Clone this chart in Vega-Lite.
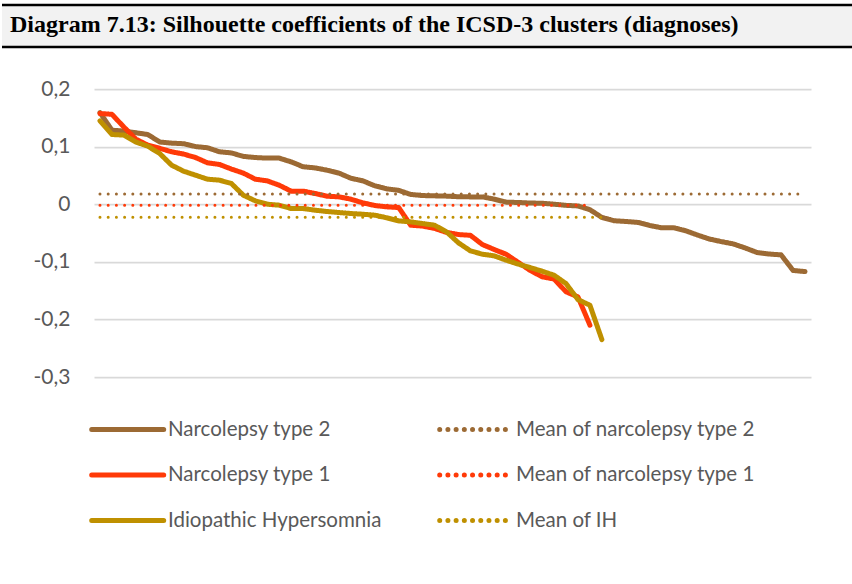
{
  "$schema": "https://vega.github.io/schema/vega-lite/v6.json",
  "padding": {"left": 0, "top": 3, "right": 0, "bottom": 0},
  "background": "white",
  "spacing": 29,
  "config": {"view": {"stroke": null}},
  "vconcat": [
    {
      "width": 760,
      "height": 42,
      "data": {"values": [{"t": "Diagram 7.13: Silhouette coefficients of the ICSD-3 clusters (diagnoses)"}]},
      "encoding": {
        "x": {"datum": -0.121053, "type": "quantitative", "scale": {"domain": [0, 1], "nice": false, "zero": false}, "axis": null}
      },
      "layer": [
        {"mark": {"type": "rect", "color": "#f2f2f2"}, "encoding": {"x2": {"datum": 1}, "y": {"datum": 0, "type": "quantitative", "scale": {"domain": [0, 1]}, "axis": null}, "y2": {"datum": 1}}},
        {"mark": {"type": "rule", "color": "black", "strokeWidth": 2.5}, "encoding": {"x2": {"datum": 1}, "y": {"datum": 0, "type": "quantitative", "scale": {"domain": [0, 1]}, "axis": null}}},
        {"mark": {"type": "rule", "color": "black", "strokeWidth": 2.5}, "encoding": {"x2": {"datum": 1}, "y": {"datum": 1, "type": "quantitative", "scale": {"domain": [0, 1]}, "axis": null}}},
        {
          "mark": {"type": "text", "align": "left", "baseline": "alphabetic", "font": "Liberation Serif", "fontWeight": "bold", "fontSize": 24, "color": "black", "dx": 8},
          "encoding": {
            "text": {"field": "t"},
            "y": {"datum": 0.35, "type": "quantitative", "scale": {"domain": [0, 1]}, "axis": null}
          }
        }
      ]
    },
    {
      "width": 717,
      "height": 288,
      "data": {"values": [
        {"s":"Narcolepsy type 2","i":0,"v":0.159},{"s":"Narcolepsy type 2","i":1,"v":0.1285},{"s":"Narcolepsy type 2","i":2,"v":0.127},{"s":"Narcolepsy type 2","i":3,"v":0.124},{"s":"Narcolepsy type 2","i":4,"v":0.121},{"s":"Narcolepsy type 2","i":5,"v":0.108},{"s":"Narcolepsy type 2","i":6,"v":0.106},{"s":"Narcolepsy type 2","i":7,"v":0.105},{"s":"Narcolepsy type 2","i":8,"v":0.1},{"s":"Narcolepsy type 2","i":9,"v":0.098},
        {"s":"Narcolepsy type 2","i":10,"v":0.091},{"s":"Narcolepsy type 2","i":11,"v":0.089},{"s":"Narcolepsy type 2","i":12,"v":0.083},{"s":"Narcolepsy type 2","i":13,"v":0.081},{"s":"Narcolepsy type 2","i":14,"v":0.08},{"s":"Narcolepsy type 2","i":15,"v":0.08},{"s":"Narcolepsy type 2","i":16,"v":0.0735},{"s":"Narcolepsy type 2","i":17,"v":0.065},{"s":"Narcolepsy type 2","i":18,"v":0.063},{"s":"Narcolepsy type 2","i":19,"v":0.059},
        {"s":"Narcolepsy type 2","i":20,"v":0.054},{"s":"Narcolepsy type 2","i":21,"v":0.045},{"s":"Narcolepsy type 2","i":22,"v":0.0405},{"s":"Narcolepsy type 2","i":23,"v":0.032},{"s":"Narcolepsy type 2","i":24,"v":0.0266},{"s":"Narcolepsy type 2","i":25,"v":0.024},{"s":"Narcolepsy type 2","i":26,"v":0.017},{"s":"Narcolepsy type 2","i":27,"v":0.015},{"s":"Narcolepsy type 2","i":28,"v":0.0145},{"s":"Narcolepsy type 2","i":29,"v":0.014},
        {"s":"Narcolepsy type 2","i":30,"v":0.013},{"s":"Narcolepsy type 2","i":31,"v":0.0127},{"s":"Narcolepsy type 2","i":32,"v":0.0127},{"s":"Narcolepsy type 2","i":33,"v":0.0087},{"s":"Narcolepsy type 2","i":34,"v":0.0035},{"s":"Narcolepsy type 2","i":35,"v":0.003},{"s":"Narcolepsy type 2","i":36,"v":0.002},{"s":"Narcolepsy type 2","i":37,"v":0.0017},{"s":"Narcolepsy type 2","i":38,"v":0.0},{"s":"Narcolepsy type 2","i":39,"v":-0.002},
        {"s":"Narcolepsy type 2","i":40,"v":-0.003},{"s":"Narcolepsy type 2","i":41,"v":-0.0095},{"s":"Narcolepsy type 2","i":42,"v":-0.023},{"s":"Narcolepsy type 2","i":43,"v":-0.0287},{"s":"Narcolepsy type 2","i":44,"v":-0.03},{"s":"Narcolepsy type 2","i":45,"v":-0.0316},{"s":"Narcolepsy type 2","i":46,"v":-0.037},{"s":"Narcolepsy type 2","i":47,"v":-0.041},{"s":"Narcolepsy type 2","i":48,"v":-0.041},{"s":"Narcolepsy type 2","i":49,"v":-0.046},
        {"s":"Narcolepsy type 2","i":50,"v":-0.0535},{"s":"Narcolepsy type 2","i":51,"v":-0.0605},{"s":"Narcolepsy type 2","i":52,"v":-0.065},{"s":"Narcolepsy type 2","i":53,"v":-0.069},{"s":"Narcolepsy type 2","i":54,"v":-0.076},{"s":"Narcolepsy type 2","i":55,"v":-0.084},{"s":"Narcolepsy type 2","i":56,"v":-0.0865},{"s":"Narcolepsy type 2","i":57,"v":-0.088},{"s":"Narcolepsy type 2","i":58,"v":-0.115},{"s":"Narcolepsy type 2","i":59,"v":-0.117},
        {"s":"Narcolepsy type 1","i":0,"v":0.1575},{"s":"Narcolepsy type 1","i":1,"v":0.156},{"s":"Narcolepsy type 1","i":2,"v":0.134},{"s":"Narcolepsy type 1","i":3,"v":0.113},{"s":"Narcolepsy type 1","i":4,"v":0.1025},{"s":"Narcolepsy type 1","i":5,"v":0.097},{"s":"Narcolepsy type 1","i":6,"v":0.091},{"s":"Narcolepsy type 1","i":7,"v":0.087},{"s":"Narcolepsy type 1","i":8,"v":0.081},{"s":"Narcolepsy type 1","i":9,"v":0.0718},
        {"s":"Narcolepsy type 1","i":10,"v":0.069},{"s":"Narcolepsy type 1","i":11,"v":0.061},{"s":"Narcolepsy type 1","i":12,"v":0.054},{"s":"Narcolepsy type 1","i":13,"v":0.0434},{"s":"Narcolepsy type 1","i":14,"v":0.0405},{"s":"Narcolepsy type 1","i":15,"v":0.033},{"s":"Narcolepsy type 1","i":16,"v":0.0226},{"s":"Narcolepsy type 1","i":17,"v":0.0226},{"s":"Narcolepsy type 1","i":18,"v":0.0185},{"s":"Narcolepsy type 1","i":19,"v":0.0139},
        {"s":"Narcolepsy type 1","i":20,"v":0.0127},{"s":"Narcolepsy type 1","i":21,"v":0.0087},{"s":"Narcolepsy type 1","i":22,"v":0.0023},{"s":"Narcolepsy type 1","i":23,"v":-0.0023},{"s":"Narcolepsy type 1","i":24,"v":-0.0046},{"s":"Narcolepsy type 1","i":25,"v":-0.0058},{"s":"Narcolepsy type 1","i":26,"v":-0.0365},{"s":"Narcolepsy type 1","i":27,"v":-0.038},{"s":"Narcolepsy type 1","i":28,"v":-0.042},{"s":"Narcolepsy type 1","i":29,"v":-0.049},
        {"s":"Narcolepsy type 1","i":30,"v":-0.0527},{"s":"Narcolepsy type 1","i":31,"v":-0.054},{"s":"Narcolepsy type 1","i":32,"v":-0.07},{"s":"Narcolepsy type 1","i":33,"v":-0.0787},{"s":"Narcolepsy type 1","i":34,"v":-0.087},{"s":"Narcolepsy type 1","i":35,"v":-0.101},{"s":"Narcolepsy type 1","i":36,"v":-0.115},{"s":"Narcolepsy type 1","i":37,"v":-0.126},{"s":"Narcolepsy type 1","i":38,"v":-0.13},{"s":"Narcolepsy type 1","i":39,"v":-0.152},
        {"s":"Narcolepsy type 1","i":40,"v":-0.161},{"s":"Narcolepsy type 1","i":41,"v":-0.21},
        {"s":"Idiopathic Hypersomnia","i":0,"v":0.1447},{"s":"Idiopathic Hypersomnia","i":1,"v":0.121},{"s":"Idiopathic Hypersomnia","i":2,"v":0.12},{"s":"Idiopathic Hypersomnia","i":3,"v":0.108},{"s":"Idiopathic Hypersomnia","i":4,"v":0.1007},{"s":"Idiopathic Hypersomnia","i":5,"v":0.088},{"s":"Idiopathic Hypersomnia","i":6,"v":0.0677},{"s":"Idiopathic Hypersomnia","i":7,"v":0.0573},{"s":"Idiopathic Hypersomnia","i":8,"v":0.0504},{"s":"Idiopathic Hypersomnia","i":9,"v":0.0434},
        {"s":"Idiopathic Hypersomnia","i":10,"v":0.0417},{"s":"Idiopathic Hypersomnia","i":11,"v":0.0359},{"s":"Idiopathic Hypersomnia","i":12,"v":0.0156},{"s":"Idiopathic Hypersomnia","i":13,"v":0.0058},{"s":"Idiopathic Hypersomnia","i":14,"v":0.0},{"s":"Idiopathic Hypersomnia","i":15,"v":-0.0017},{"s":"Idiopathic Hypersomnia","i":16,"v":-0.0075},{"s":"Idiopathic Hypersomnia","i":17,"v":-0.0075},{"s":"Idiopathic Hypersomnia","i":18,"v":-0.0104},{"s":"Idiopathic Hypersomnia","i":19,"v":-0.0127},
        {"s":"Idiopathic Hypersomnia","i":20,"v":-0.0145},{"s":"Idiopathic Hypersomnia","i":21,"v":-0.0162},{"s":"Idiopathic Hypersomnia","i":22,"v":-0.0174},{"s":"Idiopathic Hypersomnia","i":23,"v":-0.0191},{"s":"Idiopathic Hypersomnia","i":24,"v":-0.0237},{"s":"Idiopathic Hypersomnia","i":25,"v":-0.029},{"s":"Idiopathic Hypersomnia","i":26,"v":-0.0307},{"s":"Idiopathic Hypersomnia","i":27,"v":-0.0336},{"s":"Idiopathic Hypersomnia","i":28,"v":-0.0365},{"s":"Idiopathic Hypersomnia","i":29,"v":-0.048},
        {"s":"Idiopathic Hypersomnia","i":30,"v":-0.0671},{"s":"Idiopathic Hypersomnia","i":31,"v":-0.081},{"s":"Idiopathic Hypersomnia","i":32,"v":-0.0868},{"s":"Idiopathic Hypersomnia","i":33,"v":-0.0897},{"s":"Idiopathic Hypersomnia","i":34,"v":-0.0973},{"s":"Idiopathic Hypersomnia","i":35,"v":-0.104},{"s":"Idiopathic Hypersomnia","i":36,"v":-0.11},{"s":"Idiopathic Hypersomnia","i":37,"v":-0.1163},{"s":"Idiopathic Hypersomnia","i":38,"v":-0.1233},{"s":"Idiopathic Hypersomnia","i":39,"v":-0.1378},
        {"s":"Idiopathic Hypersomnia","i":40,"v":-0.1656},{"s":"Idiopathic Hypersomnia","i":41,"v":-0.1754},{"s":"Idiopathic Hypersomnia","i":42,"v":-0.235},
        {"s":"Mean of narcolepsy type 2","i":0,"v":0.0175},{"s":"Mean of narcolepsy type 2","i":59,"v":0.0175},
        {"s":"Mean of narcolepsy type 1","i":0,"v":-0.002},{"s":"Mean of narcolepsy type 1","i":41,"v":-0.002},
        {"s":"Mean of IH","i":0,"v":-0.0225},{"s":"Mean of IH","i":42,"v":-0.0225}
      ]},
      "encoding": {
        "x": {"field": "i", "type": "quantitative", "scale": {"domain": [-0.5, 59.5], "nice": false, "zero": false}, "axis": null},
        "y": {"field": "v", "type": "quantitative", "scale": {"domain": [-0.3, 0.2], "nice": false},
          "axis": {"values": [-0.3, -0.2, -0.1, 0, 0.1, 0.2], "title": null, "domain": false, "ticks": false, "grid": true, "gridColor": "#d9d9d9", "gridWidth": 1.75,
            "labelFont": "Lato", "labelFontSize": 21, "labelColor": "#595959", "labelPadding": 24, "minExtent": 92,
            "labelExpr": "datum.value == 0 ? '0' : (datum.value < 0 ? '-' : '') + replace(format(abs(datum.value), '.1f'), '.', ',')"}},
        "color": {"field": "s", "type": "nominal",
          "scale": {"domain": ["Narcolepsy type 2", "Mean of narcolepsy type 2", "Narcolepsy type 1", "Mean of narcolepsy type 1", "Idiopathic Hypersomnia", "Mean of IH"],
                    "range": ["#9c6a34", "#9c6a34", "#ff3a08", "#ff3a08", "#bf9000", "#bf9000"]},
          "legend": {"title": null, "orient": "bottom", "columns": 2, "direction": "horizontal", "symbolType": "M-1.4,0H4.6", "symbolSize": 576, "symbolStrokeWidth": 5, "labelFont": "Lato", "labelFontSize": 20.5, "labelColor": "#595959", "labelOffset": 45, "rowPadding": 20.5, "columnPadding": 47, "offset": 28, "padding": 0, "labelLimit": 400,
            "encode": {"symbols": {"update": {"strokeCap": {"value": "round"}}}}}},
        "strokeDash": {"field": "s", "type": "nominal",
          "scale": {"domain": ["Narcolepsy type 2", "Mean of narcolepsy type 2", "Narcolepsy type 1", "Mean of narcolepsy type 1", "Idiopathic Hypersomnia", "Mean of IH"],
                    "range": [[1, 0], [0.01, 8.2], [1, 0], [0.01, 8.2], [1, 0], [0.01, 8.2]]}},
        "order": {"field": "i"}
      },
      "layer": [
        {"transform": [{"filter": "indexof(datum.s, 'Mean') != 0"}], "mark": {"type": "line", "strokeCap": "round", "strokeJoin": "round", "strokeWidth": 5}},
        {"transform": [{"filter": "indexof(datum.s, 'Mean') == 0"}], "mark": {"type": "line", "strokeCap": "round", "strokeJoin": "round", "strokeWidth": 3}}
      ]
    }
  ]
}
